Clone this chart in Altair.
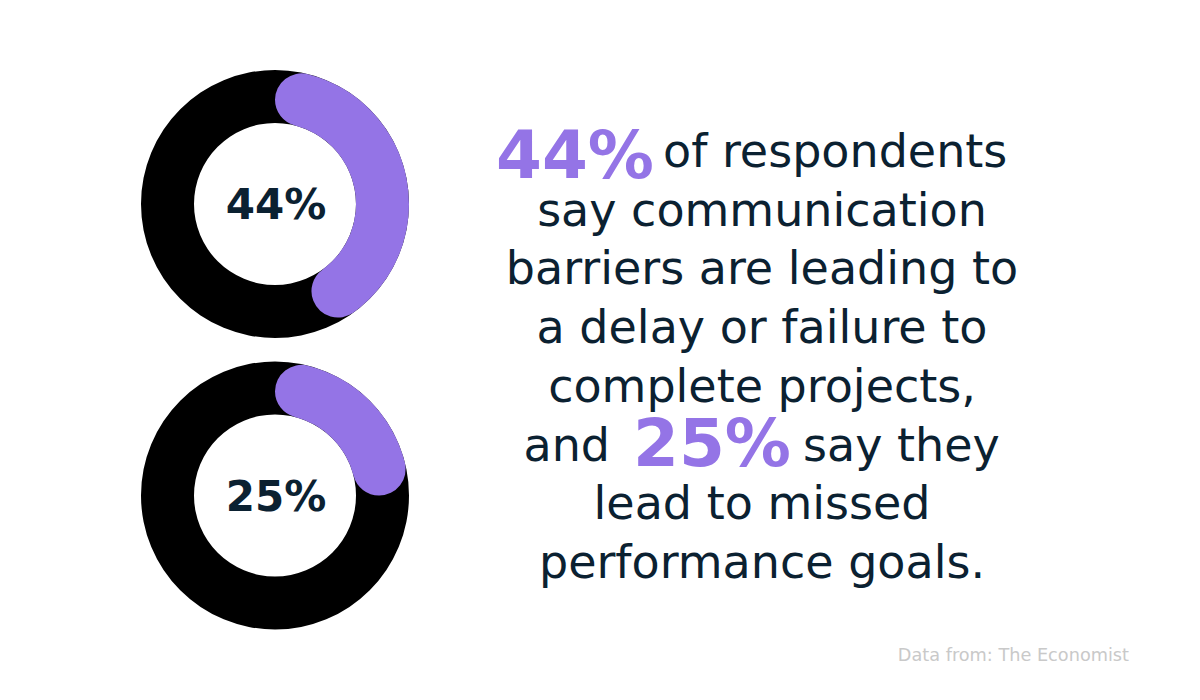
import altair as alt
import pandas as pd

# ---- data ----
donut_labels = ["44%", "25%"]
donut_pcts = [44, 25]

body_lines = ["say communication", "barriers are leading to", "a delay or failure to",
              "complete projects,", "lead to missed", "performance goals."]
body_line_idx = [1, 2, 3, 4, 6, 7]

line0_number = "44%"
line0_rest = "of respondents"
line5_before = "and"
line5_number = "25%"
line5_after = "say they"
line0_idx = 0
line5_idx = 5

source_text = "Data from: The Economist"

PURPLE = "#9474E6"
NAVY = "#0B2131"
BODY_FONT = "DejaVu Sans"

donut_df = pd.DataFrame({"label": donut_labels, "pct": donut_pcts})
body_df = pd.DataFrame({"text": body_lines, "line": body_line_idx})

theta_scale = alt.Scale(domain=[0, 100], range=[0, 6.283185307179586])
y_scale = alt.Scale(domain=[0, 7], range=[159, 570], nice=False, zero=False)


def donut(i, cy):
    base = (alt.Chart(donut_df)
            .transform_filter(alt.datum.label == donut_labels[i])
            .transform_calculate(zero="0", full="100"))
    ring = base.mark_arc(color="#000000", innerRadius=81, outerRadius=134).encode(
        theta=alt.Theta("zero:Q", scale=theta_scale, stack=None),
        theta2="full:Q",
        x=alt.value(267), y=alt.value(cy))
    part = base.mark_arc(color=PURPLE, innerRadius=81, outerRadius=134, cornerRadius=26.5).encode(
        theta=alt.Theta("zero:Q", scale=theta_scale, stack=None),
        theta2="pct:Q",
        x=alt.value(267), y=alt.value(cy))
    label = base.mark_text(font=BODY_FONT, fontSize=42, fontWeight="bold", color=NAVY,
                           align="center", baseline="alphabetic").encode(
        text="label:N", x=alt.value(268), y=alt.value(cy + 15))
    return [ring, part, label]


layers = donut(0, 196) + donut(1, 487.5)

body = alt.Chart(body_df).mark_text(font=BODY_FONT, fontSize=46, color=NAVY,
                                    align="center", baseline="alphabetic").encode(
    text="text:N", x=alt.value(754),
    y=alt.Y("line:Q", scale=y_scale, axis=None))

seg0 = pd.DataFrame({"line": [line0_idx], "num": [line0_number], "rest": [line0_rest]})
seg5 = pd.DataFrame({"line": [line5_idx], "before": [line5_before],
                     "num": [line5_number], "after": [line5_after]})

l0_num = alt.Chart(seg0).mark_text(font=BODY_FONT, fontSize=66, fontWeight="bold", color=PURPLE,
                                   align="right", baseline="alphabetic", dy=11).encode(
    text="num:N", x=alt.value(646), y=alt.Y("line:Q", scale=y_scale, axis=None))
l0_rest = alt.Chart(seg0).mark_text(font=BODY_FONT, fontSize=46, color=NAVY,
                                    align="left", baseline="alphabetic").encode(
    text="rest:N", x=alt.value(655), y=alt.Y("line:Q", scale=y_scale, axis=None))
l5_before = alt.Chart(seg5).mark_text(font=BODY_FONT, fontSize=46, color=NAVY,
                                      align="right", baseline="alphabetic").encode(
    text="before:N", x=alt.value(602), y=alt.Y("line:Q", scale=y_scale, axis=None))
l5_num = alt.Chart(seg5).mark_text(font=BODY_FONT, fontSize=66, fontWeight="bold", color=PURPLE,
                                   align="center", baseline="alphabetic", dy=5).encode(
    text="num:N", x=alt.value(704), y=alt.Y("line:Q", scale=y_scale, axis=None))
l5_after = alt.Chart(seg5).mark_text(font=BODY_FONT, fontSize=46, color=NAVY,
                                     align="left", baseline="alphabetic").encode(
    text="after:N", x=alt.value(795), y=alt.Y("line:Q", scale=y_scale, axis=None))

src = alt.Chart(pd.DataFrame({"t": [source_text]})).mark_text(
    font=BODY_FONT, fontSize=17.7, color="#C9C9C9", align="right", baseline="alphabetic").encode(
    text="t:N", x=alt.value(1121), y=alt.value(653))

chart = alt.layer(*layers, body, l0_num, l0_rest, l5_before, l5_num, l5_after, src).properties(
    width=1184, height=684, padding=0,
    autosize=alt.AutoSizeParams(type="fit", contains="padding"),
    background="#FFFFFF",
).configure_view(stroke=None)

chart.save("out.html", embed_options={"renderer": "svg", "actions": False})
